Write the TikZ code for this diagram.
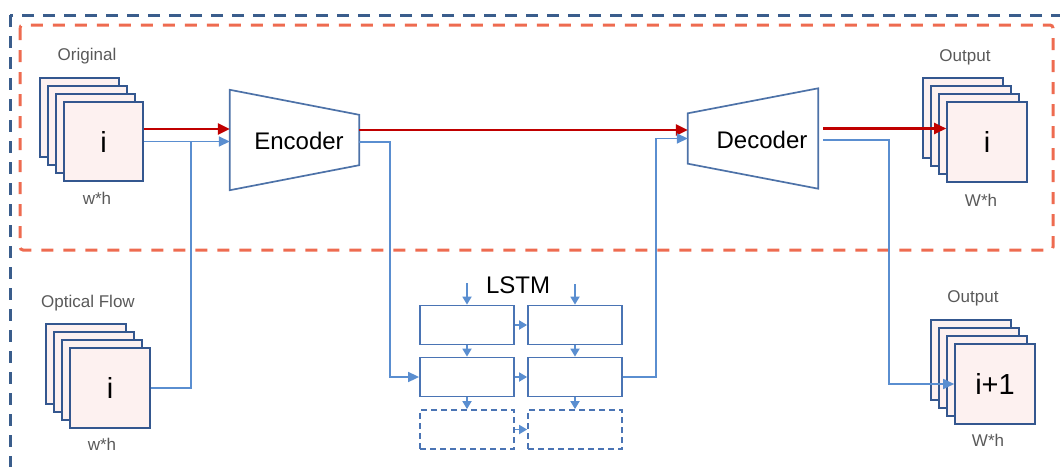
\documentclass[tikz,border=0pt]{standalone}
\usepackage{fontspec}
\setmainfont{Liberation Sans}
\usetikzlibrary{arrows.meta,calc}
\definecolor{framecol}{HTML}{34578F}
\definecolor{framefill}{HTML}{FDF1F0}
\definecolor{trapcol}{HTML}{4D72A8}
\definecolor{cellcol}{HTML}{4A74B4}
\definecolor{linkblue}{HTML}{5A8ED0}
\definecolor{arrowred}{HTML}{C00000}
\definecolor{reddash}{HTML}{EE6B50}
\definecolor{bluedash}{HTML}{3A5D8C}
\definecolor{labelgray}{HTML}{595959}
\begin{document}
\begin{tikzpicture}[x=1pt,y=-1pt,
  frame/.style={draw=framecol,fill=framefill,line width=1.6pt,minimum width=79pt,minimum height=79pt,inner sep=0pt,font=\fontsize{29}{31}\selectfont},
  bigframe/.style={frame,minimum width=80pt,minimum height=80pt},
  cell/.style={draw=cellcol,line width=1.8pt,minimum width=94pt,minimum height=39pt,inner sep=0pt},
  ghost/.style={cell,dash pattern=on 6pt off 4pt},
  link/.style={draw=linkblue,line width=1.7pt},
  linkarrow/.style={link,-{Triangle[length=11pt,width=10pt]}},
  smallarrow/.style={link,-{Triangle[length=8pt,width=9pt]}},
  redarrow/.style={draw=arrowred,line width=2.4pt,-{Triangle[length=12pt,width=11pt]}},
  caption/.style={text=labelgray,font=\fontsize{17}{19}\selectfont},
  title/.style={text=black,font=\fontsize{24}{26}\selectfont},
  trap/.style={draw=trapcol,line width=1.7pt,fill=white}]
\useasboundingbox (0,0) rectangle (1060,466);

% outer and inner dashed frames
\draw[bluedash,line width=3pt,dash pattern=on 12pt off 9pt] (10,15) rectangle (1080,490);
\draw[reddash,line width=3pt,dash pattern=on 12pt off 10pt,rounded corners=3pt] (20,25) rectangle (1053,250);

% image stacks
\node[frame] (orig3) at (79.5,117.5) {};
\node[frame] (orig2) at (87.5,125.5) {};
\node[frame] (orig1) at (95.5,133.5) {};
\node[frame] (orig) at (103.5,141.5) {i};
\node[caption] (origlbl) at (87,56) {Original};
\node[caption] (origsz) at (97,198) {w*h};

\node[bigframe] (flow3) at (86,364) {};
\node[bigframe] (flow2) at (94,372) {};
\node[bigframe] (flow1) at (102,380) {};
\node[bigframe] (flow) at (110,388) {i};
\node[caption] (flowlbl) at (88,303) {Optical Flow};
\node[caption] (flowsz) at (102,444) {w*h};

\node[bigframe] (outa3) at (963,118) {};
\node[bigframe] (outa2) at (971,126) {};
\node[bigframe] (outa1) at (979,134) {};
\node[bigframe] (outa) at (987,142) {i};
\node[caption] (outalbl) at (965,57) {Output};
\node[caption] (outasz) at (981,200) {W*h};

\node[bigframe] (outb3) at (971,360) {};
\node[bigframe] (outb2) at (979,368) {};
\node[bigframe] (outb1) at (987,376) {};
\node[bigframe] (outb) at (995,384) {i+1};
\node[caption] (outblbl) at (973,298) {Output};
\node[caption] (outbsz) at (988,440) {W*h};

% encoder and decoder
\node[minimum width=129pt,minimum height=100pt,inner sep=0pt] (enc) at (294.5,140) {};
\draw[trap] (enc.north west) -- ([yshift=-25pt]enc.north east) -- ([yshift=25pt]enc.south east) -- (enc.south west) -- cycle;
\node[title] (enctxt) at (299,141) {Encoder};

\node[minimum width=130pt,minimum height=100pt,inner sep=0pt] (dec) at (753,138.5) {};
\draw[trap] ([yshift=-25pt]dec.north west) -- (dec.north east) -- (dec.south east) -- ([yshift=25pt]dec.south west) -- cycle;
\node[title] (dectxt) at (762,140) {Decoder};

% LSTM cells
\node[title] (lstm) at (518,285) {LSTM};
\node[cell] (l1) at (467,325) {};
\node[cell] (r1) at (575,325) {};
\node[cell] (l2) at (467,377) {};
\node[cell] (r2) at (575,377) {};
\node[ghost] (l3) at (467,429.5) {};
\node[ghost] (r3) at (575,429.5) {};
\coordinate (in1) at (467,283);
\coordinate (in2) at (575,284);
\draw[smallarrow] (in1) -- (l1);
\draw[smallarrow] (in2) -- (r1);
\draw[smallarrow] (l1) -- (l2);
\draw[smallarrow] (r1) -- (r2);
\draw[smallarrow] (l2) -- (l3);
\draw[smallarrow] (r2) -- (r3);
\draw[smallarrow] (l1) -- (r1);
\draw[smallarrow] (l2) -- (r2);
\draw[smallarrow] (l3) -- (r3);

% red path: frame -> encoder -> decoder -> frame
\coordinate (o1) at ([yshift=12.5pt]orig.east);
\draw[redarrow] (o1) -- (o1 -| enc.west);
\coordinate (ro) at ([yshift=10pt]enc.east);
\draw[redarrow] (ro) -- (ro -| dec.west);
\coordinate (dr) at ([yshift=10pt]dec.east);
\draw[redarrow] ([xshift=5pt]dr) -- (dr -| outa.west);

% blue paths
\draw[linkarrow] (orig.east) -- (orig.east -| enc.west);
\coordinate (join) at ($(orig.east)+(47,0)$);
\draw[link] (flow.east) -| (join);
\coordinate (eo) at ([yshift=-2pt]enc.east);
\draw[linkarrow] (eo) -- ++(31,0) |- (l2.west);
\draw[linkarrow] (r2.east) -- ++(33,0) |- (dec.west);
\coordinate (db) at ([yshift=-1.5pt]dec.east);
\draw[linkarrow] ([xshift=5pt]db) -- ++(66,0) |- (outb.west);
\end{tikzpicture}
\end{document}
